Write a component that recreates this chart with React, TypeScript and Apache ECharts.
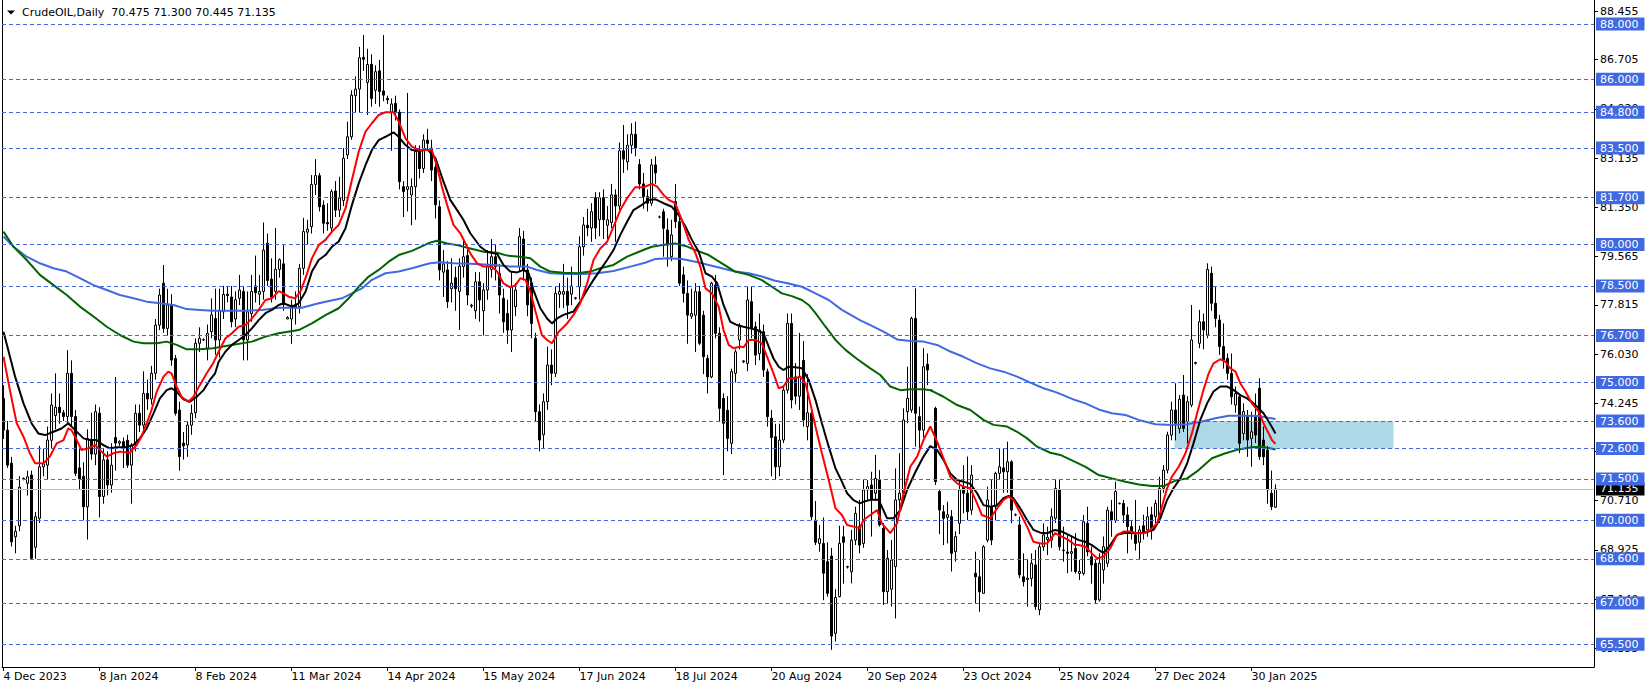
import { useEffect, useRef } from "react";
import * as echarts from "echarts";

// [open, close, low, high] per daily bar, bar 0 = 4 Dec 2023
const candles: number[][] = [
  [74.42, 73.27, 72.95, 74.9], [73.27, 72.0, 71.9, 73.6], [72.07, 69.22, 69.05, 72.3], [69.4, 69.6, 68.8, 69.8], [69.8, 71.2, 69.6, 71.6],
  [71.5, 71.52, 71.45, 71.55], [71.34, 71.58, 70.9, 71.8], [71.64, 68.62, 68.56, 71.8], [69.02, 70.13, 68.6, 70.3], [70.07, 71.94, 69.9, 72.7],
  [71.94, 72.05, 71.6, 72.6], [72.0, 72.91, 71.5, 73.4], [72.9, 74.18, 72.6, 74.6], [73.8, 74.1, 73.3, 75.33], [74.1, 73.9, 73.5, 74.6],
  [73.9, 73.76, 73.6, 74.0], [73.76, 75.33, 73.5, 76.17], [75.33, 73.76, 73.4, 75.8], [73.76, 71.7, 71.6, 74.0], [71.9, 71.5, 71.1, 72.6],
  [71.6, 70.49, 70.0, 72.1], [70.49, 72.97, 69.3, 73.3], [72.9, 72.4, 72.2, 73.9], [72.4, 73.94, 72.0, 74.2], [73.88, 70.86, 70.1, 74.1],
  [70.86, 72.19, 70.6, 72.6], [72.19, 71.28, 70.9, 72.5], [71.28, 72.0, 71.0, 72.8], [73.0, 72.8, 71.8, 75.2], [72.8, 72.85, 72.7, 72.9],
  [72.85, 72.6, 71.9, 73.0], [72.9, 72.0, 71.9, 73.1], [72.0, 72.7, 70.6, 72.8], [72.8, 73.88, 72.5, 74.2], [73.88, 73.45, 73.2, 74.2],
  [73.45, 74.6, 73.2, 75.4], [74.6, 74.4, 74.0, 75.1], [74.4, 75.33, 74.2, 75.6], [75.33, 77.08, 75.1, 77.3], [77.08, 78.17, 76.9, 78.4],
  [78.6, 76.96, 76.8, 79.26], [76.96, 77.81, 76.7, 78.4], [77.81, 75.81, 75.6, 78.2], [75.87, 73.88, 73.8, 76.0], [74.0, 72.31, 71.8, 74.3],
  [72.8, 72.7, 72.2, 73.2], [72.73, 73.45, 72.3, 73.6], [73.45, 73.88, 73.1, 74.2], [73.9, 76.42, 73.7, 76.6], [76.42, 76.6, 76.1, 77.0],
  [76.54, 76.55, 76.5, 76.6], [76.24, 76.78, 75.8, 77.1], [76.84, 77.45, 76.6, 78.05], [77.32, 76.54, 76.0, 78.4], [76.54, 77.6, 75.9, 78.4],
  [77.56, 78.19, 77.3, 78.5], [78.2, 78.15, 77.9, 78.5], [78.1, 77.2, 77.0, 78.5], [77.3, 78.0, 77.0, 78.3], [78.05, 78.35, 77.8, 78.9],
  [78.3, 76.54, 75.8, 78.5], [76.54, 77.56, 75.8, 78.3], [77.5, 78.3, 77.2, 78.9], [78.5, 78.25, 77.9, 79.6], [78.2, 78.3, 77.8, 78.9],
  [78.3, 79.8, 78.0, 80.8], [80.05, 78.7, 78.5, 80.4], [78.75, 78.1, 77.9, 79.5], [78.3, 79.1, 78.0, 80.6], [79.1, 79.45, 78.8, 79.5],
  [79.3, 77.83, 77.6, 80.0], [77.3, 77.35, 77.3, 77.4], [77.3, 77.8, 76.4, 78.0], [77.8, 77.7, 77.1, 78.3], [77.75, 79.14, 77.5, 79.3],
  [79.14, 80.47, 78.9, 80.97], [80.45, 80.56, 80.0, 80.9], [80.65, 82.18, 80.4, 82.52], [82.18, 82.5, 81.8, 83.1], [82.5, 81.37, 81.2, 82.6],
  [81.43, 80.77, 80.4, 81.6], [80.8, 80.75, 80.5, 81.5], [80.6, 81.92, 80.4, 82.0], [81.94, 81.25, 81.0, 82.3], [81.25, 81.68, 81.0, 82.46],
  [81.6, 83.13, 81.4, 83.5], [83.25, 83.91, 83.1, 84.46], [83.91, 85.42, 83.8, 85.6], [85.4, 85.64, 84.8, 86.1], [85.64, 86.78, 84.8, 87.17],
  [86.79, 86.72, 86.3, 87.6], [85.88, 86.53, 84.7, 87.1], [86.54, 85.3, 85.0, 86.9], [85.6, 86.27, 85.1, 86.5], [86.3, 85.55, 85.0, 86.7],
  [85.57, 85.42, 85.2, 87.6], [85.3, 85.25, 85.1, 85.4], [84.8, 85.1, 83.4, 85.3], [85.12, 84.82, 84.5, 85.4], [84.8, 82.28, 82.0, 84.9],
  [82.1, 81.92, 81.0, 82.3], [82.0, 82.1, 81.2, 85.5], [81.8, 82.1, 80.7, 82.4], [82.1, 83.37, 80.9, 83.6], [83.4, 82.76, 82.4, 83.6],
  [82.76, 83.79, 82.6, 84.0], [83.79, 83.67, 83.4, 84.2], [83.5, 82.7, 82.3, 83.8], [82.8, 81.44, 80.95, 83.0], [81.37, 79.08, 78.7, 81.6],
  [79.0, 79.3, 78.1, 79.8], [79.08, 77.93, 77.7, 79.4], [78.4, 78.6, 77.9, 79.5], [78.8, 78.4, 77.6, 79.2], [78.3, 79.22, 76.9, 79.5],
  [79.2, 79.56, 78.8, 80.2], [79.6, 78.17, 77.8, 79.9], [77.8, 77.77, 77.7, 77.85], [77.6, 78.65, 77.3, 79.0], [78.65, 77.99, 77.2, 79.0],
  [77.6, 78.35, 76.7, 78.6], [78.35, 79.2, 78.0, 79.8], [79.1, 79.56, 78.8, 80.2], [79.56, 79.2, 78.7, 80.0], [78.95, 78.17, 77.5, 79.3],
  [78.05, 77.2, 76.8, 78.4], [77.5, 76.9, 76.4, 78.0], [76.9, 78.47, 76.1, 79.0], [77.75, 78.35, 77.4, 78.6], [79.2, 80.29, 79.0, 80.6],
  [80.2, 79.08, 78.7, 80.5], [79.08, 77.81, 77.4, 79.3], [78.6, 77.14, 76.6, 78.8], [76.6, 73.94, 73.6, 76.8], [73.94, 72.91, 72.5, 74.2],
  [73.1, 74.3, 72.6, 74.6], [74.3, 75.63, 74.0, 76.3], [75.63, 75.33, 74.9, 76.2], [75.33, 78.23, 75.2, 78.5], [78.2, 78.3, 77.7, 78.6],
  [78.2, 78.3, 77.7, 79.3], [78.3, 77.8, 77.3, 78.8], [78.2, 78.5, 77.8, 79.2], [78.05, 78.07, 78.0, 78.1], [78.47, 79.92, 78.0, 80.3],
  [79.92, 80.71, 79.6, 81.0], [80.7, 80.6, 80.3, 81.3], [80.6, 81.19, 80.1, 81.5], [81.7, 80.6, 80.2, 81.9], [80.9, 81.7, 80.3, 81.9],
  [81.7, 80.9, 80.2, 82.0], [80.7, 80.9, 80.2, 81.4], [80.8, 81.8, 80.6, 82.2], [81.8, 81.4, 80.1, 82.0], [81.4, 83.4, 81.2, 83.7],
  [83.4, 83.1, 82.6, 84.34], [83.0, 83.6, 82.7, 84.0], [83.6, 84.0, 83.3, 84.4], [84.0, 83.5, 83.2, 84.46], [82.9, 82.2, 82.0, 83.1],
  [82.2, 81.74, 81.3, 82.6], [81.74, 81.5, 81.2, 82.0], [81.5, 82.89, 81.4, 83.1], [82.89, 82.6, 82.2, 83.2], [81.0, 81.0, 80.95, 81.05],
  [81.19, 80.59, 79.56, 81.3], [80.53, 79.98, 79.2, 80.95], [79.56, 80.35, 79.4, 80.9], [81.56, 80.83, 80.6, 82.2], [80.83, 78.6, 78.5, 81.0],
  [78.9, 78.23, 77.9, 79.2], [78.23, 77.44, 76.4, 78.7], [77.4, 77.5, 77.3, 78.4], [77.44, 78.29, 76.1, 78.6], [78.29, 76.42, 76.35, 78.5],
  [77.44, 75.93, 75.3, 77.6], [75.87, 75.2, 74.6, 76.0], [75.2, 78.6, 75.15, 78.65], [78.53, 76.78, 76.6, 78.9], [76.78, 74.06, 73.58, 77.0],
  [74.42, 73.52, 71.64, 74.6], [73.99, 72.97, 72.5, 74.5], [72.79, 75.39, 72.4, 75.5], [75.33, 76.11, 75.0, 76.2], [76.54, 77.02, 76.2, 77.15],
  [75.75, 75.78, 75.7, 75.8], [75.69, 77.99, 75.4, 78.47], [77.93, 76.96, 76.6, 78.47], [77.02, 75.99, 75.63, 77.2], [76.05, 76.9, 75.8, 77.5],
  [76.84, 75.45, 75.2, 77.1], [75.39, 73.76, 73.4, 75.5], [73.7, 73.0, 71.6, 74.0], [73.03, 71.94, 71.46, 73.5], [71.94, 72.91, 71.6, 73.5],
  [72.91, 74.72, 72.8, 74.85], [74.72, 77.14, 74.6, 77.5], [77.14, 74.36, 74.06, 77.5], [75.2, 74.5, 74.2, 75.7], [74.5, 75.2, 74.0, 76.8],
  [75.8, 73.64, 73.4, 76.5], [73.4, 73.9, 72.9, 75.3], [73.88, 70.13, 70.0, 74.1], [70.0, 69.2, 69.1, 70.7], [69.16, 69.33, 68.86, 69.83],
  [69.16, 68.08, 67.1, 70.1], [68.5, 67.35, 67.23, 69.2], [68.7, 65.8, 65.3, 69.0], [65.9, 67.2, 65.6, 67.5], [67.23, 69.16, 67.2, 69.8],
  [69.4, 69.2, 67.7, 69.8], [68.3, 68.32, 68.25, 68.35], [68.13, 69.28, 67.71, 69.65], [69.28, 70.25, 69.1, 70.49], [69.77, 69.1, 68.8, 70.74],
  [69.16, 71.1, 69.0, 71.46], [71.1, 71.22, 70.74, 71.46], [71.28, 70.74, 69.41, 71.76], [70.98, 71.52, 70.7, 72.37], [71.46, 69.83, 69.77, 71.82],
  [69.71, 67.41, 66.93, 69.9], [67.41, 68.62, 67.0, 68.92], [67.5, 68.56, 66.87, 69.28], [68.32, 70.74, 66.44, 71.88], [70.74, 70.98, 70.4, 72.43],
  [70.98, 73.64, 70.8, 74.06], [73.94, 74.42, 73.52, 75.57], [74.0, 77.32, 73.9, 77.38], [77.32, 73.88, 72.67, 78.41], [73.76, 73.27, 72.55, 74.12],
  [73.27, 75.57, 73.0, 76.24], [75.66, 75.45, 74.9, 76.05], [74.7, 74.72, 74.65, 74.75], [74.06, 71.4, 71.28, 74.12], [71.04, 70.37, 69.5, 71.1],
  [70.31, 70.07, 69.1, 70.55], [70.1, 70.2, 69.16, 70.67], [70.13, 68.8, 68.14, 70.37], [68.86, 69.41, 68.5, 69.6], [69.89, 71.1, 69.5, 71.46],
  [71.22, 70.98, 70.25, 72.0], [70.98, 70.31, 70.0, 72.31], [70.37, 71.64, 70.2, 72.0], [68.08, 67.95, 66.99, 68.86], [67.95, 67.41, 66.68, 68.56],
  [67.35, 69.04, 67.35, 69.1], [69.28, 70.74, 69.2, 71.22], [70.5, 69.28, 69.1, 71.46], [70.5, 71.7, 70.0, 71.76], [71.7, 71.94, 71.46, 72.61],
  [71.9, 71.76, 71.0, 72.61], [71.76, 72.12, 71.0, 72.85], [72.12, 70.37, 69.89, 72.18], [70.2, 70.19, 70.15, 70.25], [69.83, 68.02, 67.9, 70.13],
  [67.95, 67.77, 67.6, 68.8], [67.85, 67.9, 66.87, 68.6], [67.89, 68.44, 67.6, 68.8], [68.38, 66.87, 66.75, 68.92], [66.75, 69.04, 66.56, 69.16],
  [69.04, 69.47, 68.9, 69.89], [69.3, 69.38, 68.74, 69.77], [69.28, 70.13, 69.0, 70.43], [70.07, 71.16, 69.9, 71.46], [71.1, 69.04, 68.9, 71.46],
  [68.9, 68.92, 68.5, 69.77], [68.85, 68.8, 68.08, 69.5], [68.8, 68.86, 68.14, 69.41], [68.98, 68.14, 68.07, 69.53], [68.07, 68.14, 67.83, 68.56],
  [68.07, 69.95, 68.0, 70.19], [69.89, 68.86, 68.7, 70.49], [68.68, 68.38, 67.7, 69.04], [68.44, 67.11, 66.99, 68.6], [67.11, 68.44, 67.05, 68.8],
  [68.2, 69.04, 67.7, 69.41], [68.44, 70.37, 68.3, 70.49], [70.31, 70.01, 69.4, 70.74], [70.0, 71.04, 69.9, 71.4], [70.6, 70.61, 70.58, 70.65],
  [70.61, 70.19, 69.9, 70.74], [70.19, 69.77, 68.8, 70.49], [69.77, 69.53, 69.3, 70.0], [69.47, 69.16, 68.9, 70.74], [69.2, 69.65, 68.56, 69.8],
  [69.8, 69.55, 69.3, 70.2], [69.65, 70.13, 69.4, 70.49], [70.2, 69.65, 69.3, 70.49], [70.13, 70.61, 69.9, 70.74], [70.1, 71.16, 69.9, 71.58],
  [71.16, 71.82, 71.0, 72.0], [71.82, 73.09, 71.7, 73.21], [73.09, 74.0, 72.9, 74.3], [74.0, 73.52, 72.9, 74.97], [73.33, 74.39, 73.15, 74.54],
  [74.54, 73.33, 73.2, 75.27], [73.58, 74.3, 72.79, 74.5], [74.18, 76.54, 74.1, 77.81], [75.69, 75.72, 75.65, 75.75], [76.42, 77.2, 76.24, 77.63],
  [77.2, 76.9, 76.2, 77.5], [76.72, 79.1, 76.6, 79.32], [78.96, 77.87, 77.6, 79.2], [77.87, 77.32, 77.0, 78.47], [77.26, 76.3, 76.0, 77.45],
  [76.3, 75.81, 75.5, 77.14], [75.87, 75.33, 75.1, 76.05], [75.33, 74.48, 74.2, 76.05], [74.18, 74.6, 73.9, 74.85], [74.48, 72.79, 72.43, 74.6],
  [73.15, 73.94, 72.9, 74.24], [73.76, 72.91, 72.3, 74.0], [72.97, 73.21, 71.94, 73.94], [73.76, 73.09, 72.8, 74.6], [74.79, 72.31, 72.19, 75.15],
  [72.91, 72.3, 72.0, 73.4], [72.55, 71.1, 70.6, 72.7], [70.98, 70.49, 70.37, 71.8], [70.475, 71.135, 70.445, 71.3],
];

// moving averages: [bar position, price]
const maRed: number[][] = [
  [0, 75.93], [1.6, 74.72], [3.3, 73.52], [5, 73.03], [6.6, 72.43], [7.9, 72.07], [10, 72.07], [11.6, 72.31], [13.3, 72.79], [15, 72.91],
  [16.2, 73.33], [17, 73.27], [18.3, 72.91], [19.5, 72.55], [21.2, 72.61], [22.9, 72.73], [24.1, 72.55], [25.8, 72.31], [27.5, 72.43], [29.1, 72.49],
  [31.6, 72.45], [33.3, 72.73], [34.5, 73.03], [35.8, 73.52], [37, 74], [38.3, 74.66], [40, 75.21], [41.2, 75.39], [42, 75.33], [43.3, 74.85],
  [44.5, 74.48], [46.2, 74.3], [47.5, 74.48], [49.1, 74.91], [50.8, 75.33], [52.4, 75.69], [53.8, 76.12], [55.5, 76.6], [57.1, 76.78], [58.8, 77.02],
  [60.5, 77.08], [62.1, 77.32], [63.8, 77.63], [65.5, 77.99], [67.1, 78.05], [68.8, 78.31], [70, 78.23], [71.3, 78.11], [72.9, 78.05], [74.2, 78.29],
  [75.5, 78.78], [77.1, 79.5], [78.8, 79.98], [80.5, 80.17], [82.1, 80.47], [83.8, 80.71], [85.5, 81.31], [87.1, 82.34], [88.8, 83.37], [90.5, 84.1],
  [92.1, 84.4], [93.8, 84.7], [95.5, 84.8], [97.5, 84.8], [98.8, 84.46], [100.5, 83.85], [102.1, 83.55], [103.8, 83.43], [106.3, 83.43], [107.1, 83.43],
  [108.4, 82.82], [109.6, 82.1], [110.9, 81.44], [112.5, 80.71], [114.2, 80.41], [115.5, 80.04], [116.7, 79.68], [118.4, 79.32], [120, 79.2], [122.1, 79.2],
  [123.4, 79.02], [125, 78.59], [126.7, 78.45], [128, 78.53], [129.2, 78.78], [130.5, 78.72], [131.7, 78.29], [133, 77.57], [134.6, 76.72], [135.9, 76.54],
  [137.1, 76.42], [138.8, 76.84], [140.9, 77.14], [142.5, 77.45], [144.2, 77.87], [145.9, 78.59], [147.5, 79.44], [149.2, 79.86], [150.9, 80.1], [152.5, 80.65],
  [154.2, 81.25], [155.9, 81.68], [157.9, 82.08], [160, 82.08], [162.1, 82.2], [163.4, 82.1], [165, 81.8], [166.3, 81.62], [167.9, 81.5], [169.6, 80.89],
  [171.3, 80.17], [173, 79.68], [174.2, 79.2], [175.5, 78.41], [177.1, 78.23], [178.8, 77.75], [180, 76.9], [181.3, 76.36], [182.5, 76.24], [184.2, 76.3],
  [185, 76.27], [186.3, 76.54], [188, 76.54], [189.6, 76.42], [190.9, 75.93], [192.5, 75.33], [193.8, 74.79], [195, 74.85], [196.3, 75.15], [198, 75.15],
  [199.2, 75.21], [200.5, 74.97], [201.7, 74.24], [203, 73.39], [204.6, 72.43], [205.9, 71.7], [207.1, 70.98], [208, 70.43], [209.6, 70.19], [210.9, 69.83],
  [212.5, 69.77], [214.1, 69.71], [215, 70.01], [216.7, 70.19], [218.4, 70.37], [219.6, 69.89], [221.7, 69.53], [223.4, 69.89], [225, 70.98], [226.7, 71.94],
  [228.4, 72.31], [230, 72.91], [231.7, 73.4], [233.4, 72.85], [235, 72.25], [236.7, 71.58], [238.4, 71.34], [240, 71.22], [241.7, 71.16], [243.4, 70.61],
  [244.6, 70.19], [246.7, 70.07], [248.4, 70.43], [250, 70.74], [251.3, 70.86], [252.5, 70.74], [254.2, 70.25], [255.9, 69.77], [257.5, 69.22], [259.2, 69.16],
  [260.9, 69.16], [262.9, 69.53], [264.6, 69.41], [266.3, 69.28], [267.9, 69.1], [268.8, 69.1], [270.5, 69.04], [272.1, 68.8], [273.4, 68.62], [275, 68.68],
  [276.7, 68.98], [278.4, 69.47], [280, 69.59], [281.8, 69.59], [283.4, 69.53], [285, 69.53], [286.7, 69.65], [288.4, 69.89], [289.6, 70.49], [290.9, 71.16],
  [292.1, 71.58], [293.8, 71.94], [295.5, 72.43], [297.1, 73.15], [298.4, 73.88], [300, 74.73], [301.3, 75.33], [302.5, 75.69], [304.2, 75.84], [305.5, 75.75],
  [306.7, 75.51], [308, 75.39], [309.2, 74.97], [310.5, 74.67], [312.1, 74.24], [313.8, 73.94], [315, 73.52], [316.3, 73.15], [317.1, 72.91], [318, 72.77],
];

const maBlack: number[][] = [
  [0, 76.84], [1.2, 76.17], [2.9, 75.21], [5, 74.24], [7, 73.52], [8.7, 73.15], [10.4, 73.09], [12.5, 73.21], [14.5, 73.33], [16.2, 73.52],
  [17.9, 73.27], [20, 72.97], [21.6, 72.91], [23.3, 72.91], [24.9, 72.73], [26.6, 72.61], [28.3, 72.65], [30.4, 72.65], [32.5, 72.73], [34.1, 72.97],
  [35.8, 73.33], [37.5, 73.88], [39.1, 74.42], [40.8, 74.72], [42, 74.79], [43.3, 74.66], [45, 74.39], [46.6, 74.3], [48.3, 74.48], [50, 74.72],
  [51.6, 75.09], [52.9, 75.33], [53.8, 75.75], [55.5, 76.12], [57.1, 76.36], [58.8, 76.54], [60.5, 76.72], [62.1, 76.96], [63.8, 77.26], [65.5, 77.51],
  [67.1, 77.63], [68.8, 77.81], [70, 77.87], [72.1, 77.75], [73.8, 77.87], [75.5, 78.29], [77.1, 79.02], [78.8, 79.44], [80.5, 79.62], [82.1, 79.92],
  [83.8, 80.11], [85.5, 80.59], [87.1, 81.43], [88.8, 82.22], [90.5, 82.88], [92.1, 83.43], [93.8, 83.79], [95.5, 83.91], [97.5, 84.07], [98.8, 83.91],
  [100.5, 83.61], [102.1, 83.43], [103.8, 83.39], [106, 83.45], [108, 83.13], [110, 82.28], [111.7, 81.62], [113.4, 81.25], [115, 80.89], [116.7, 80.41],
  [119.2, 79.92], [120.9, 79.74], [123.4, 79.66], [125, 79.26], [126.7, 79.02], [128.4, 78.99], [130, 79.08], [131.3, 78.96], [132.5, 78.35], [134.2, 77.69],
  [135.9, 77.32], [137.1, 77.14], [138.4, 77.32], [140, 77.45], [142.5, 77.57], [144.2, 77.93], [145.9, 78.35], [147.5, 78.72], [149.2, 79.08], [150.9, 79.44],
  [152.5, 79.8], [154.2, 80.35], [155.9, 80.83], [157.5, 81.25], [159.2, 81.4], [161.3, 81.62], [163, 81.64], [165, 81.5], [167.1, 81.37], [168.8, 81.07],
  [170.5, 80.65], [172.1, 80.17], [173.8, 79.74], [175.5, 78.96], [177.1, 78.84], [178.4, 78.6], [180, 77.81], [181.7, 77.2], [183.4, 77.08], [185, 77.02],
  [186.7, 76.96], [188.4, 76.9], [190, 76.78], [191.3, 76.3], [192.5, 75.87], [193.8, 75.57], [195, 75.45], [196.3, 75.57], [198, 75.55], [199.6, 75.51],
  [201.3, 75.09], [203, 74.36], [204.6, 73.52], [206.3, 72.67], [208, 71.88], [209.6, 71.4], [210.9, 70.98], [212.5, 70.73], [214.1, 70.61], [215, 70.67],
  [216.7, 70.74], [218.8, 70.74], [220.9, 70.07], [222.5, 70.07], [224.2, 70.37], [225.9, 71.1], [228, 71.76], [230, 72.31], [231.7, 72.69], [233.4, 72.55],
  [235, 72.19], [236.7, 71.7], [238.4, 71.46], [240, 71.4], [241.7, 71.32], [243.4, 70.98], [245, 70.55], [246.7, 70.49], [248.4, 70.55], [250, 70.8],
  [251.3, 70.88], [252.5, 70.8], [254.2, 70.43], [255.9, 70.01], [257.5, 69.65], [259.2, 69.55], [260.9, 69.53], [262.9, 69.65], [264.6, 69.59], [266.3, 69.47],
  [267.9, 69.35], [268.8, 69.28], [270.5, 69.22], [272.1, 69.1], [273.8, 68.92], [275, 68.82], [276.7, 69.1], [278.4, 69.47], [280.5, 69.55], [282.9, 69.53],
  [285.5, 69.55], [287.5, 69.65], [289.2, 70.07], [290.9, 70.74], [292.5, 71.16], [294.2, 71.52], [295.9, 72.06], [297.5, 72.79], [299.2, 73.64], [300.9, 74.24],
  [302.5, 74.67], [304.2, 74.85], [305.9, 74.85], [307.5, 74.73], [309.2, 74.54], [310.9, 74.42], [312.5, 74.24], [313.8, 74.06], [315, 73.88], [316.3, 73.58],
  [318, 73.15],
];

const maGreen: number[][] = [
  [0, 80.47], [2.5, 79.92], [5.8, 79.44], [9.1, 78.9], [12.5, 78.53], [15.8, 78.17], [19.1, 77.75], [22.5, 77.39], [25.8, 77.02], [29.1, 76.72],
  [32.5, 76.48], [35, 76.42], [38.3, 76.42], [40.8, 76.48], [43.3, 76.36], [45.8, 76.2], [49.1, 76.2], [52.4, 76.24], [57.1, 76.36], [62.1, 76.48],
  [65.5, 76.66], [68.8, 76.78], [73.8, 76.9], [77.1, 77.14], [80.5, 77.44], [83.8, 77.69], [86.3, 78.05], [88.8, 78.47], [91.3, 78.84], [93.8, 79.08],
  [96.3, 79.38], [98.8, 79.62], [102.1, 79.77], [106.6, 80.07], [108.4, 80.14], [110.9, 80.04], [113.4, 79.98], [116.7, 79.86], [120, 79.74], [123.4, 79.7],
  [125.9, 79.6], [129.2, 79.56], [131.7, 79.5], [134.2, 79.2], [136.7, 79.02], [140, 78.98], [143.4, 78.96], [146.7, 79.02], [149.2, 79.14], [152.5, 79.26],
  [155.9, 79.56], [160.4, 79.83], [162.1, 79.92], [164.6, 79.98], [167.9, 80.04], [170.5, 79.95], [173, 79.8], [176.3, 79.62], [179.6, 79.32], [182.9, 79.02],
  [186.3, 78.9], [189.6, 78.71], [192.1, 78.47], [194.6, 78.23], [197.1, 78.13], [199.6, 77.99], [201.3, 77.81], [203, 77.51], [205.5, 77.02], [208, 76.54],
  [210.5, 76.18], [213.4, 75.85], [216.7, 75.51], [219.2, 75.27], [221.7, 74.85], [224.2, 74.72], [226.7, 74.75], [230, 74.75], [231.7, 74.72], [235, 74.48],
  [238.4, 74.18], [241.7, 74], [245, 73.64], [247.5, 73.46], [250.9, 73.4], [253.4, 73.21], [255.9, 72.97], [258.4, 72.67], [261.7, 72.45], [264.2, 72.37],
  [267.9, 72.12], [270.5, 71.94], [273.8, 71.64], [277.1, 71.52], [280.5, 71.4], [283.8, 71.3], [287.1, 71.24], [290, 71.24], [293, 71.44], [295.9, 71.52],
  [298.8, 71.82], [302.1, 72.25], [305.5, 72.43], [308.8, 72.57], [312.1, 72.65], [314.6, 72.67], [318, 72.57],
];

const maBlue: number[][] = [
  [0, 80.29], [2.5, 79.92], [5.8, 79.56], [9.1, 79.32], [12.5, 79.14], [15.8, 79.02], [19.1, 78.78], [22.5, 78.53], [25.8, 78.35], [29.1, 78.17],
  [32.5, 78.05], [35.8, 77.93], [39.1, 77.87], [42.5, 77.81], [45.8, 77.66], [49.1, 77.63], [52.4, 77.6], [60.5, 77.6], [64.6, 77.63], [68.8, 77.71],
  [74.6, 77.71], [78.8, 77.87], [84.6, 78.05], [87.1, 78.23], [89.6, 78.41], [92.1, 78.72], [95.5, 78.96], [98.8, 79.02], [102.1, 79.14], [106.6, 79.32],
  [109.2, 79.36], [112.5, 79.32], [116.7, 79.3], [122.5, 79.26], [126.7, 79.2], [130.9, 79.2], [133.4, 79.08], [136.7, 78.96], [140.9, 78.93], [145, 78.93],
  [148.4, 78.96], [152.5, 79.04], [156.7, 79.2], [160.4, 79.34], [163, 79.48], [166.3, 79.5], [169.6, 79.48], [173, 79.38], [176.3, 79.26], [179.6, 79.14],
  [182.9, 79.02], [186.3, 78.96], [189.6, 78.84], [192.9, 78.69], [196.3, 78.59], [199.6, 78.47], [203, 78.23], [206.3, 77.99], [209.6, 77.63], [214.1, 77.26],
  [216.7, 77.08], [220, 76.84], [223.4, 76.56], [226.7, 76.5], [230, 76.48], [233.4, 76.36], [236.7, 76.12], [240, 75.93], [243.4, 75.69], [246.7, 75.51],
  [250, 75.39], [253.4, 75.21], [256.7, 74.99], [260, 74.79], [263.4, 74.63], [267.9, 74.36], [270.5, 74.24], [273.8, 74.02], [277.1, 73.88], [280.5, 73.82],
  [283.8, 73.64], [288, 73.48], [292.1, 73.46], [295.9, 73.48], [299.6, 73.58], [303, 73.7], [306.3, 73.79], [310.5, 73.79], [313.8, 73.78], [318, 73.67],
];

const levels = [88, 86, 84.8, 83.5, 81.7, 80, 78.5, 76.7, 75, 73.6, 72.6, 71.5, 70, 68.6, 67, 65.5];
const priceTicks = [88.455, 86.705, 84.92, 83.135, 81.35, 79.565, 77.815, 76.03, 74.245, 72.495, 70.71, 68.925, 67.14, 65.355];
const dateTickBars = [0, 24, 48, 72, 96, 120, 144, 168, 192, 216, 240, 264, 288, 312];
const dateTickLabels = [
  "4 Dec 2023", "8 Jan 2024", "8 Feb 2024", "11 Mar 2024", "14 Apr 2024", "15 May 2024", "17 Jun 2024",
  "18 Jul 2024", "20 Aug 2024", "20 Sep 2024", "23 Oct 2024", "25 Nov 2024", "27 Dec 2024", "30 Jan 2025",
];
const lastPrice = 71.135;
const zoneBars = [292.75, 347.5];
const zonePrices = [73.6, 72.6];
const titleText = "CrudeOIL,Daily  70.475 71.300 70.445 71.135";

const FONT = "DejaVu Sans";
const Y_MIN = 64.678;
const Y_MAX = 88.8705;

export default function App() {
  const ref = useRef<HTMLDivElement>(null);

  useEffect(() => {
    if (!ref.current) return;
    const chart = echarts.init(ref.current, null, { renderer: "svg" });
    const lineSeries = (data: number[][], color: string, z: number) => ({
      type: "line",
      data,
      xAxisIndex: 0,
      yAxisIndex: 0,
      symbol: "none",
      showSymbol: false,
      silent: true,
      z,
      lineStyle: { color, width: 2 },
    });
    chart.setOption({
      animation: false,
      backgroundColor: "#fff",
      grid: { left: 2, right: 57, top: 0, bottom: 24, containLabel: false },
      xAxis: {
        type: "value",
        min: -0.375,
        max: 397.625,
        axisLine: { show: true, onZero: false, lineStyle: { color: "#000", width: 1 } },
        splitLine: { show: false },
        axisTick: { show: true, customValues: dateTickBars, length: 4, lineStyle: { color: "#000" } },
        axisLabel: {
          customValues: dateTickBars,
          formatter: (v: number) => dateTickLabels[dateTickBars.indexOf(v)] ?? "",
          align: "left",
          margin: 4,
          color: "#000",
          fontFamily: FONT,
          fontSize: 11,
        },
      },
      yAxis: [
        {
          type: "value",
          position: "right",
          min: Y_MIN,
          max: Y_MAX,
          axisLine: { show: true, onZero: false, lineStyle: { color: "#000", width: 1 } },
          splitLine: { show: false },
          axisTick: { show: true, customValues: priceTicks, length: 4, lineStyle: { color: "#000" } },
          axisLabel: {
            customValues: priceTicks,
            formatter: (v: number) => v.toFixed(3),
            margin: 6,
            color: "#000",
            fontFamily: FONT,
            fontSize: 11,
          },
        },
        {
          type: "value",
          position: "left",
          min: Y_MIN,
          max: Y_MAX,
          axisLine: { show: true, onZero: false, lineStyle: { color: "#000", width: 1 } },
          splitLine: { show: false },
          axisTick: { show: false },
          axisLabel: { show: false },
        },
      ],
      graphic: [
        { type: "polygon", shape: { points: [[7, 10.5], [15, 10.5], [11, 14.5]] }, style: { fill: "#000" } },
        {
          type: "text",
          x: 22,
          y: 12.5,
          style: { text: titleText, font: `11px "${FONT}"`, fill: "#000", verticalAlign: "middle", align: "left" },
        },
      ],
      series: [
        {
          type: "line",
          data: [],
          xAxisIndex: 0,
          yAxisIndex: 0,
          z: 1,
          silent: true,
          markArea: {
            silent: true,
            itemStyle: { color: "#ADD8E6" },
            data: [[{ xAxis: zoneBars[0], yAxis: zonePrices[0] }, { xAxis: zoneBars[1], yAxis: zonePrices[1] }]],
          },
          markLine: {
            silent: true,
            symbol: ["none", "none"],
            precision: 3,
            lineStyle: { color: "#4169E1", type: [4, 3], width: 1 },
            label: {
              position: "end",
              distance: 2,
              formatter: (p: any) => Number(p.value).toFixed(3),
              color: "#fff",
              backgroundColor: "#4169E1",
              padding: [1, 6, 0, 4],
              fontFamily: FONT,
              fontSize: 11,
              lineHeight: 12,
            },
            emphasis: { disabled: true },
            data: [
              {
                yAxis: lastPrice,
                lineStyle: { color: "#C0C0C0", type: "solid", width: 1 },
                label: { backgroundColor: "#000", color: "#fff" },
              },
              ...levels.map((v) => ({ yAxis: v })),
            ],
          },
        },
        {
          type: "candlestick",
          xAxisIndex: 0,
          yAxisIndex: 0,
          z: 2,
          silent: true,
          barWidth: 3,
          data: candles.map((c, i) => [i, c[0], c[1], c[2], c[3]]),
          encode: { x: 0, y: [1, 2, 3, 4] },
          itemStyle: { color: "#fff", color0: "#000", borderColor: "#000", borderColor0: "#000", borderWidth: 1 },
        },
        lineSeries(maBlue, "#4169E1", 3),
        lineSeries(maGreen, "#006400", 3),
        lineSeries(maBlack, "#000000", 4),
        lineSeries(maRed, "#FF0000", 5),
      ],
    });
    return () => chart.dispose();
  }, []);

  return (
    <div
      ref={ref}
      style={{ position: "absolute", left: 0, top: 0, width: 1651, height: 691, background: "#fff" }}
    />
  );
}
